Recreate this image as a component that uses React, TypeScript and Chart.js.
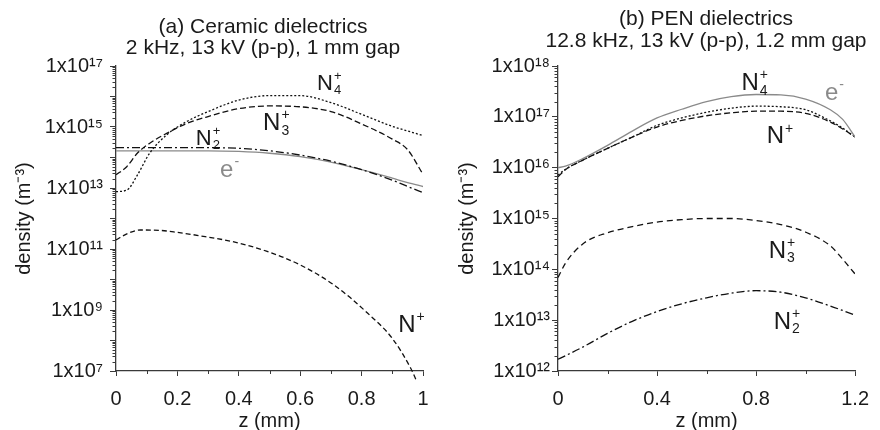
import React, { useEffect, useRef } from "react";
import { Chart, registerables } from "chart.js";

Chart.register(...registerables);

const FONT = '"Liberation Sans", Arial, Helvetica, sans-serif';
const TEXT = "#1a1a1a";
const AXIS = "#3a3a3a";
const GRAY = "#8a8a8a";

// ---------- (a) Ceramic dielectrics ----------
const ceramicTitle = ["(a) Ceramic dielectrics", "2 kHz, 13 kV (p-p), 1 mm gap"];
const ceramicXTicks = [0, 0.2, 0.4, 0.6, 0.8, 1];
const ceramicXMinor = [0.1, 0.3, 0.5, 0.7, 0.9];
const ceramicYDecades = [7, 8, 9, 10, 11, 12, 13, 14, 15, 16, 17];
const ceramicYLabelled = [7, 9, 11, 13, 15, 17];

const zCeramic = [0, 0.035, 0.07, 0.11, 0.165, 0.23, 0.3, 0.4, 0.5, 0.6, 0.7, 0.8, 0.9, 0.95, 1.0];
const ceramicN4 = [7.6e12, 8.5e12, 2.7e13, 1.4e14, 5.5e14, 1.5e15, 3.2e15, 7.6e15, 1.07e16, 1.07e16, 6.3e15, 2.6e15, 1.05e15, 7.4e14, 5.2e14];
const ceramicN3 = [2.7e13, 5.0e13, 1.4e14, 2.95e14, 6.2e14, 1.3e15, 2.2e15, 4.0e15, 4.9e15, 4.6e15, 3.2e15, 1.26e15, 4.0e14, 1.8e14, 2.8e13];
const ceramicN2 = [2.1e14, 2.1e14, 2.1e14, 2.1e14, 2.1e14, 2.1e14, 2.1e14, 2.0e14, 1.66e14, 1.2e14, 7.6e13, 4.0e13, 1.8e13, 1.12e13, 7.1e12];
const ceramicE = [1.66e14, 1.66e14, 1.66e14, 1.66e14, 1.66e14, 1.66e14, 1.66e14, 1.58e14, 1.38e14, 1.07e14, 7.1e13, 4.0e13, 2.1e13, 1.5e13, 1.12e13];
const zCeramicN1 = [0, 0.04, 0.08, 0.14, 0.2, 0.27, 0.38, 0.49, 0.6, 0.71, 0.82, 0.9, 0.96, 0.98];
const ceramicN1 = [2.0e11, 3.3e11, 4.2e11, 4.1e11, 3.5e11, 2.75e11, 1.74e11, 8.5e10, 3.0e10, 6.6e9, 7.8e8, 1.17e8, 1.23e7, 4.5e6];

// ---------- (b) PEN dielectrics ----------
const penTitle = ["(b) PEN dielectrics", "12.8 kHz, 13 kV (p-p), 1.2 mm gap"];
const penXTicks = [0, 0.4, 0.8, 1.2];
const penXMinor = [0.2, 0.6, 1.0];
const penYDecades = [12, 13, 14, 15, 16, 17, 18];
const penYLabelled = [12, 13, 14, 15, 16, 17, 18];

const zPen = [0, 0.03, 0.1, 0.2, 0.3, 0.4, 0.5, 0.6, 0.7, 0.8, 0.9, 1.0, 1.1, 1.15, 1.2];
const penE = [1.0e16, 1.07e16, 1.51e16, 2.75e16, 5.25e16, 9.5e16, 1.41e17, 2.0e17, 2.5e17, 2.75e17, 2.7e17, 2.24e17, 1.38e17, 8.9e16, 4.0e16];
const penN4 = [7.1e15, 9.3e15, 1.41e16, 2.4e16, 4.0e16, 6.8e16, 9.5e16, 1.23e17, 1.48e17, 1.62e17, 1.58e17, 1.38e17, 8.3e16, 6.0e16, 4.0e16];
const penN1 = [6.6e15, 9.1e15, 1.41e16, 2.4e16, 4.0e16, 6.3e16, 8.5e16, 1.05e17, 1.2e17, 1.29e17, 1.29e17, 1.17e17, 7.9e16, 5.75e16, 4.0e16];
const penN3 = [6.9e13, 1.32e14, 3.16e14, 5.25e14, 6.9e14, 8.5e14, 9.5e14, 1.0e15, 1.0e15, 9.1e14, 7.6e14, 5.4e14, 2.9e14, 1.58e14, 8.1e13];
const penN2 = [1.7e12, 2.0e12, 2.95e12, 5.5e12, 9.5e12, 1.48e13, 2.1e13, 2.75e13, 3.4e13, 3.8e13, 3.55e13, 2.75e13, 1.9e13, 1.55e13, 1.26e13];

const SUP: Record<string, string> = {
  "0": "⁰", "1": "¹", "2": "²", "3": "³", "4": "⁴",
  "5": "⁵", "6": "⁶", "7": "⁷", "8": "⁸", "9": "⁹",
};
const supNum = (n: number) => String(n).split("").map((c) => SUP[c] || c).join("");

type Series = { label: string; z: number[]; v: number[]; color: string; dash: number[]; clip?: boolean };
type Note = { base: string; sub?: string; sup?: string; z: number; v: number; color: string; size: number };

type Spec = {
  title: string[];
  titleX: number;
  titleY: number[];
  xMax: number;
  xTicks: number[];
  xMinor: number[];
  decades: number[];
  labelled: number[];
  series: Series[];
  notes: Note[];
  yWidth: number;
  yTickPad: number;
  yTitlePad: number;
  padRight: number;
};

const ceramicSpec: Spec = {
  title: ceramicTitle,
  titleX: 263,
  titleY: [27, 48],
  xMax: 1,
  xTicks: ceramicXTicks,
  xMinor: ceramicXMinor,
  decades: ceramicYDecades,
  labelled: ceramicYLabelled,
  series: [
    { label: "N4+", z: zCeramic, v: ceramicN4, color: "#111", dash: [2, 2] },
    { label: "N3+", z: zCeramic, v: ceramicN3, color: "#111", dash: [6, 3] },
    { label: "N2+", z: zCeramic, v: ceramicN2, color: "#111", dash: [8, 3, 2, 3] },
    { label: "e-", z: zCeramic, v: ceramicE, color: GRAY, dash: [] },
    { label: "N+", z: zCeramicN1, v: ceramicN1, color: "#111", dash: [5, 3], clip: true },
  ],
  notes: [
    { base: "N", sub: "4", sup: "+", z: 0.655, v: 1.63e16, color: TEXT, size: 22 },
    { base: "N", sub: "3", sup: "+", z: 0.479, v: 7.9e14, color: TEXT, size: 24 },
    { base: "N", sub: "2", sup: "+", z: 0.26, v: 2.6e14, color: TEXT, size: 22 },
    { base: "e", sup: "-", z: 0.339, v: 2.3e13, color: GRAY, size: 24 },
    { base: "N", sup: "+", z: 0.919, v: 1.9e8, color: TEXT, size: 24 },
  ],
  yWidth: 116,
  yTickPad: 7,
  yTitlePad: 12,
  padRight: 17,
};

const penSpec: Spec = {
  title: penTitle,
  titleX: 266,
  titleY: [19, 41],
  xMax: 1.2,
  xTicks: penXTicks,
  xMinor: penXMinor,
  decades: penYDecades,
  labelled: penYLabelled,
  series: [
    { label: "e-", z: zPen, v: penE, color: GRAY, dash: [] },
    { label: "N4+", z: zPen, v: penN4, color: "#111", dash: [2, 2] },
    { label: "N+", z: zPen, v: penN1, color: "#111", dash: [6, 3] },
    { label: "N3+", z: zPen, v: penN3, color: "#111", dash: [6, 4] },
    { label: "N2+", z: zPen, v: penN2, color: "#111", dash: [8, 3, 2, 3] },
  ],
  notes: [
    { base: "N", sub: "4", sup: "+", z: 0.741, v: 3.4e17, color: TEXT, size: 24 },
    { base: "e", sup: "-", z: 1.078, v: 2.14e17, color: GRAY, size: 24 },
    { base: "N", sup: "+", z: 0.843, v: 3.0e16, color: TEXT, size: 24 },
    { base: "N", sub: "3", sup: "+", z: 0.851, v: 1.7e14, color: TEXT, size: 24 },
    { base: "N", sub: "2", sup: "+", z: 0.871, v: 6.8e12, color: TEXT, size: 24 },
  ],
  yWidth: 118,
  yTickPad: 2,
  yTitlePad: 15,
  padRight: 16,
};

function drawChem(ctx: CanvasRenderingContext2D, x: number, y: number, n: Note) {
  ctx.fillStyle = n.color;
  ctx.textAlign = "left";
  ctx.textBaseline = "alphabetic";
  ctx.font = `${n.size}px ${FONT}`;
  ctx.fillText(n.base, x, y);
  const w = ctx.measureText(n.base).width;
  const small = Math.round(n.size * 0.6);
  ctx.font = `${small}px ${FONT}`;
  if (n.sub) ctx.fillText(n.sub, x + w + 1, y + n.size * 0.2);
  if (n.sup) ctx.fillText(n.sup, x + w + 1, y - n.size * 0.45);
}

function makeDecor(spec: Spec) {
  return {
    id: "decor",
    afterDraw(chart: any) {
      const ctx: CanvasRenderingContext2D = chart.ctx;
      const xs = chart.scales.x;
      const ys = chart.scales.y;
      const area = chart.chartArea;
      ctx.save();
      ctx.strokeStyle = AXIS;
      ctx.lineWidth = 1;
      const d0 = spec.decades[0];
      const d1 = spec.decades[spec.decades.length - 1];
      for (let e = d0; e < d1; e++) {
        for (let m = 2; m <= 9; m++) {
          const py = Math.round(ys.getPixelForValue(m * Math.pow(10, e))) + 0.5;
          ctx.beginPath();
          ctx.moveTo(area.left, py);
          ctx.lineTo(area.left - 3.5, py);
          ctx.stroke();
        }
      }
      for (const v of spec.xMinor) {
        const px = Math.round(xs.getPixelForValue(v)) + 0.5;
        ctx.beginPath();
        ctx.moveTo(px, area.bottom);
        ctx.lineTo(px, area.bottom + 3);
        ctx.stroke();
      }
      ctx.fillStyle = TEXT;
      ctx.font = `21px ${FONT}`;
      ctx.textAlign = "center";
      ctx.textBaseline = "middle";
      spec.title.forEach((t, i) => ctx.fillText(t, spec.titleX, spec.titleY[i]));
      for (const n of spec.notes) {
        drawChem(ctx, xs.getPixelForValue(n.z), ys.getPixelForValue(n.v), n);
      }
      ctx.restore();
    },
  };
}

function buildChart(canvas: HTMLCanvasElement, spec: Spec) {
  const datasets = spec.series.map((s) => ({
    label: s.label,
    data: s.z.map((z, i) => ({ x: z, y: s.v[i] })),
    borderColor: s.color,
    backgroundColor: s.color,
    borderWidth: 1.3,
    borderDash: s.dash,
    pointRadius: 0,
    fill: false,
    cubicInterpolationMode: "monotone" as const,
    clip: s.clip ? false : undefined,
  }));
  const min = Math.pow(10, spec.decades[0]);
  const max = Math.pow(10, spec.decades[spec.decades.length - 1]);
  return new Chart(canvas, {
    type: "line",
    data: { datasets } as any,
    options: {
      responsive: false,
      animation: false,
      devicePixelRatio: 1,
      layout: { padding: { top: 66, right: spec.padRight, left: 0, bottom: 0 } },
      plugins: { legend: { display: false }, tooltip: { enabled: false } },
      scales: {
        x: {
          type: "linear",
          min: 0,
          max: spec.xMax,
          afterBuildTicks: (s: any) => {
            s.ticks = spec.xTicks.map((v) => ({ value: v }));
          },
          afterFit: (s: any) => {
            s.height = 59;
          },
          ticks: {
            autoSkip: false,
            maxRotation: 0,
            padding: 11,
            color: TEXT,
            font: { family: FONT, size: 20 },
            callback: (v: any) => String(Math.round(Number(v) * 10) / 10),
          },
          grid: { display: true, drawOnChartArea: false, drawTicks: true, tickLength: 5, color: AXIS, lineWidth: 1 },
          border: { display: true, color: AXIS, width: 1.3 },
          title: {
            display: true,
            text: "z (mm)",
            color: TEXT,
            font: { family: FONT, size: 20 },
            padding: { top: 0, bottom: -3 },
          },
        },
        y: {
          type: "logarithmic",
          min,
          max,
          afterBuildTicks: (s: any) => {
            s.ticks = spec.decades.map((e) => ({ value: Math.pow(10, e) }));
          },
          afterFit: (s: any) => {
            s.width = spec.yWidth;
          },
          ticks: {
            autoSkip: false,
            padding: spec.yTickPad,
            color: TEXT,
            font: { family: FONT, size: 20 },
            callback: (v: any) => {
              const e = Math.round(Math.log10(Number(v)));
              return spec.labelled.includes(e) ? "1x10" + supNum(e) : "";
            },
          },
          grid: { display: true, drawOnChartArea: false, drawTicks: true, tickLength: 6, color: AXIS, lineWidth: 1 },
          border: { display: true, color: AXIS, width: 1.3 },
          title: {
            display: true,
            text: "density (m⁻³)",
            color: TEXT,
            font: { family: FONT, size: 20 },
            padding: { top: spec.yTitlePad, bottom: 0 },
          },
        },
      },
    },
    plugins: [makeDecor(spec)],
  } as any);
}

function Panel({ spec, left }: { spec: Spec; left: number }) {
  const ref = useRef<HTMLCanvasElement | null>(null);
  useEffect(() => {
    if (!ref.current) return;
    const chart = buildChart(ref.current, spec);
    return () => chart.destroy();
  }, [spec]);
  return (
    <canvas
      ref={ref}
      width={440}
      height={430}
      style={{ position: "absolute", left, top: 0, width: 440, height: 430 }}
    />
  );
}

export default function App() {
  return (
    <div style={{ position: "absolute", left: 0, top: 0, width: 880, height: 430, background: "#fff", overflow: "hidden" }}>
      <Panel spec={ceramicSpec} left={0} />
      <Panel spec={penSpec} left={440} />
    </div>
  );
}
